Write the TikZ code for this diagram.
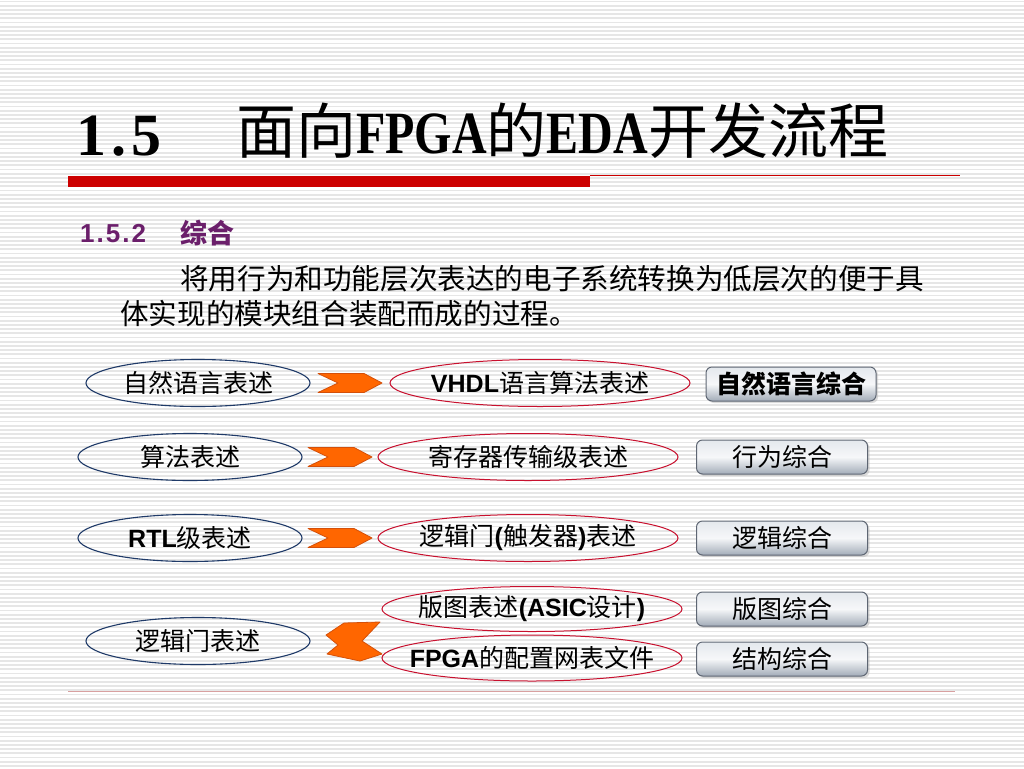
\documentclass[tikz,border=0pt]{standalone}
\usepackage{fontspec}
\setmainfont{Liberation Sans}
\newfontfamily\cjk{Noto Sans CJK SC}
\newfontfamily\titelfont[FakeStretch=0.8]{Liberation Serif}
\newfontfamily\nrfont{Liberation Serif}
\usetikzlibrary{shapes.geometric,shadows,positioning}
\definecolor{blau}{HTML}{1F3A68}
\definecolor{rotlinie}{HTML}{C8102E}
\definecolor{balken}{HTML}{CC0000}
\definecolor{hellrot}{HTML}{D8A0A0}
\definecolor{lila}{HTML}{6B1F6B}
\definecolor{orange1}{HTML}{FF6600}
\definecolor{orange2}{HTML}{D4500A}
\definecolor{knopfoben}{HTML}{E4E8ED}
\definecolor{knopfmitte}{HTML}{F6F7F9}
\definecolor{knopfunten}{HTML}{A2ACB8}
\definecolor{knopfrand}{HTML}{5E6673}
\definecolor{streifen}{HTML}{E6E6E6}
\newcommand\lat[1]{{\rmfamily\bfseries #1}}

\begin{document}
\begin{tikzpicture}[x=1pt,y=-1pt]
	\tikzset{links/.style={ellipse, draw=blau, line width=1.1pt, minimum width=224, minimum height=47,
			inner xsep=-40pt, inner ysep=-10pt, font=\cjk\fontsize{25}{30}\selectfont},
		mitte/.style={ellipse, draw=rotlinie, line width=1pt, minimum width=300, minimum height=47,
			inner xsep=-40pt, inner ysep=-10pt, font=\cjk\fontsize{25}{30}\selectfont},
		knopf/.style={rounded corners=6pt, draw=knopfrand, line width=1pt, top color=knopfoben,
			bottom color=knopfunten, middle color=knopfmitte, minimum width=171, minimum height=34,
			inner sep=0pt, font=\cjk\fontsize{25}{30}\selectfont,
			drop shadow={shadow xshift=2pt, shadow yshift=-2pt, fill=gray!55}},
		pfeil/.style={fill=orange1, draw=orange2, line width=0.8pt, line join=round}}
	%Hintergrund
	\useasboundingbox (0,0) rectangle (1024,768);
	\fill[white] (0,0) rectangle (1024,768);
	\foreach \i in {0,...,182}
	\draw[streifen, line width=1.7pt] (0,1.5+4.2*\i) -- (1024,1.5+4.2*\i);
	
	%Titel
	\node[anchor=base west, inner sep=0pt, font=\nrfont\bfseries\fontsize{60}{60}\selectfont] (nr) at (76,155)
	{1\kern5pt.\kern5pt5};
	\node[anchor=base west, inner sep=0pt, font=\cjk\fontsize{60}{60}\selectfont] (titel) at (236,153)
	{面向{\titelfont\bfseries FPGA}的{\titelfont\bfseries EDA}开发流程};
	\fill[balken] (68,176) rectangle (590,187);
	\draw[balken, line width=1pt] (590,175.5) -- (960,175.5);
	\draw[hellrot, line width=1pt] (68,691) -- (955,691);
	
	%Text
	\node[anchor=base west, inner sep=0pt, text=lila, font=\bfseries\fontsize{26}{30}\selectfont] (unr) at (80,242)
	{1\kern2pt.\kern2pt5\kern2pt.\kern2pt2};
	\node[anchor=base west, inner sep=0pt, text=lila, font=\cjk\bfseries\fontsize{27}{30}\selectfont] (uti) at (180,243)
	{综合};
	\node[anchor=base west, inner sep=0pt, font=\cjk\fontsize{28.6}{34}\selectfont] (z1) at (180,289)
	{将用行为和功能层次表达的电子系统转换为低层次的便于具};
	\node[anchor=base west, inner sep=0pt, font=\cjk\fontsize{28.6}{34}\selectfont] (z2) at (120,324)
	{体实现的模块组合装配而成的过程。};
	
	%Beschreibungen
	\node[links] (nat) at (198,383) {自然语言表述};
	\node[links] (alg) at (190,457) {算法表述};
	\node[links] (rtl) at (190,538) {\lat{RTL}级表述};
	\node[links] (gat) at (198,641) {逻辑门表述};
	
	\node[mitte] (vhdl) at (540,383) {\lat{VHDL}语言算法表述};
	\node[mitte] (reg)  at (528,457) {寄存器传输级表述};
	\node[mitte] (log)  at (528,538) {逻辑门\lat{(}触发器\lat{)}表述};
	\node[mitte, minimum height=45] (ban)  at (532,609) {版图表述\lat{(ASIC}设计\lat{)}};
	\node[mitte, minimum height=46] (fpga) at (532,658) {\lat{FPGA}的配置网表文件};
	
	%Synthese
	\node[knopf, minimum width=170, font=\cjk\bfseries\fontsize{25}{30}\selectfont] (k1) at (791,384) {自然语言综合};
	\node[knopf] (k2) at (782,457) {行为综合};
	\node[knopf] (k3) at (782,538) {逻辑综合};
	\node[knopf] (k4) at (782,609) {版图综合};
	\node[knopf] (k5) at (782,659) {结构综合};
	
	%Pfeile
	\path (nat) -- (vhdl) coordinate[midway] (p1);
	\path (alg) -- (reg)  coordinate[midway] (p2);
	\path (rtl) -- (log)  coordinate[midway] (p3);
	\coordinate (p4) at (354,642);
	\foreach \p in {p1,p2,p3}
	\filldraw[pfeil, shift={(\p)}] (-32,-9.5) -- (14,-9.5) -- (32,0) -- (14,9.5) -- (-32,9.5) -- (-12,0) -- cycle;
	\filldraw[pfeil, shift={(p4)}] (-28,-7) -- (-10,-19) -- (26,-20) -- (8,-1) -- (28,12) -- (6,19)
	-- (-27,12) -- (-16,3) -- cycle;
	
\end{tikzpicture}
\end{document}
